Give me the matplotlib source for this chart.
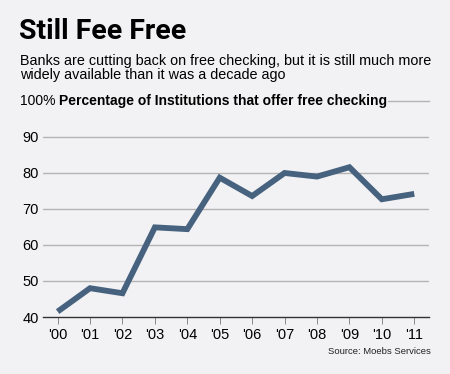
import matplotlib
matplotlib.use("Agg")
import matplotlib.pyplot as plt

years = ["'00", "'01", "'02", "'03", "'04", "'05", "'06", "'07", "'08", "'09", "'10", "'11"]
pct_free = [41.5, 48.0, 46.6, 64.9, 64.4, 78.7, 73.6, 80.0, 79.0, 81.6, 72.7, 74.2]
yticks = [40, 50, 60, 70, 80, 90]

bg = "#f2f2f4"
line_col = "#46627f"
grid_col = "#b4b4b4"

plt.rcParams["font.family"] = ["Liberation Sans", "DejaVu Sans"]

fig = plt.figure(figsize=(4.5, 3.74), dpi=100, facecolor=bg)
ax = fig.add_axes([0.0956, 0.1524, 0.953 - 0.0956, 0.73 - 0.1524])
ax.set_facecolor(bg)

x = list(range(len(years)))
ax.plot(x, pct_free, color=line_col, lw=4.2, solid_joinstyle="miter", solid_capstyle="butt", zorder=3)

ax.set_xlim(-0.45, 11.45)
ax.set_ylim(40, 100)
ax.set_yticks(yticks)
ax.set_yticklabels([str(v) for v in yticks], fontsize=10.5)
for v in yticks[1:]:
    ax.axhline(v, color=grid_col, lw=1.0, zorder=1)
ax.set_xticks(x)
ax.set_xticklabels(years, fontsize=10.5)
ax.tick_params(axis="y", length=0, pad=3)
ax.tick_params(axis="x", length=5, width=0.6, color="#777777", pad=3)
for s in ["top", "right", "left"]:
    ax.spines[s].set_visible(False)
ax.spines["bottom"].set_color("#333333")
ax.spines["bottom"].set_linewidth(1.0)

# title block
fig.text(19 / 450, 1 - 18 / 374, "Still Fee Free", fontsize=20.5, fontweight="bold",
         family=["Roboto", "Liberation Sans"], va="top", ha="left")
fig.text(20 / 450, 1 - 54 / 374,
         "Banks are cutting back on free checking, but it is still much more\nwidely available than it was a decade ago",
         fontsize=10.4, va="top", ha="left", linespacing=0.98)
t1 = fig.text(20 / 450, 1 - 101 / 374, "100% ", fontsize=10, va="center", ha="left")
fig.canvas.draw()
bb = t1.get_window_extent()
t2 = fig.text(bb.x1 / 450, 1 - 101 / 374, "Percentage of Institutions that offer free checking",
              fontsize=10, fontweight="bold", va="center", ha="left")
fig.canvas.draw()
bb2 = t2.get_window_extent()
fig.add_artist(plt.Line2D([bb2.x1 / 450 + 0.002, 0.953], [1 - 101 / 374, 1 - 101 / 374],
                          color=grid_col, lw=1.0, transform=fig.transFigure))

fig.text(431 / 450, 1 - 351 / 374, "Source: Moebs Services", fontsize=6.8,
         va="center", ha="right", color="#222222")

fig.savefig("out.png", dpi=100, facecolor=bg)
